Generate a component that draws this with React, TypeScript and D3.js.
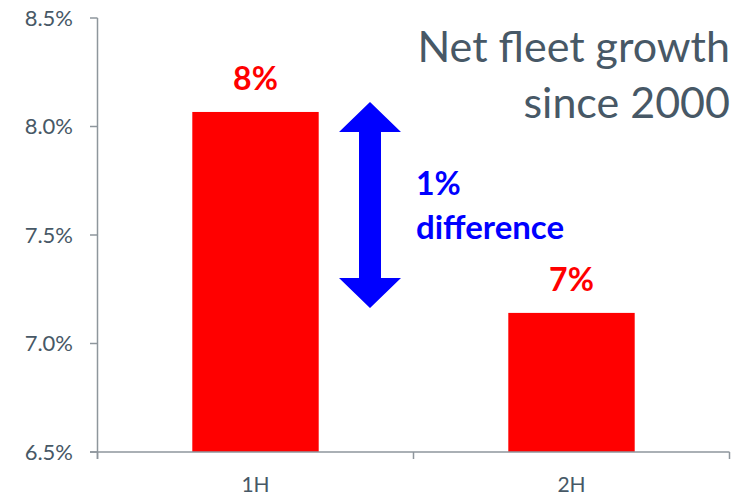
import React from "react";
import * as d3 from "d3";

const categories = ["1H", "2H"];
const values = [8.067, 7.141];
const valueLabels = ["8%", "7%"];
const yTicks = [6.5, 7.0, 7.5, 8.0, 8.5];
const titleLines = ["Net fleet growth", "since 2000"];
const noteLines = ["1%", "difference"];

const W = 751;
const H = 497;
const FONT = "Lato, 'Open Sans', sans-serif";
const TEXT = "#475866";
const AXIS = "#8e969c";

export default function App() {
  const x = d3.scaleBand<string>().domain(categories).range([97.5, 729.5]).padding(0);
  const y = d3.scaleLinear().domain([6.5, 8.5]).range([452, 18]);
  const barW = x.bandwidth() * 0.4;

  // arrow geometry
  const ax = 370;
  const aTop = 102;
  const aBot = 308;
  const headH = 30;
  const headHalf = 31;
  const shaftHalf = 11;
  const arrow = [
    [ax, aTop],
    [ax + headHalf, aTop + headH],
    [ax + shaftHalf, aTop + headH],
    [ax + shaftHalf, aBot - headH],
    [ax + headHalf, aBot - headH],
    [ax, aBot],
    [ax - headHalf, aBot - headH],
    [ax - shaftHalf, aBot - headH],
    [ax - shaftHalf, aTop + headH],
    [ax - headHalf, aTop + headH],
  ];

  return (
    <svg
      width={W}
      height={H}
      style={{ position: "absolute", left: 0, top: 0, background: "#fff" }}
      fontFamily={FONT}
    >
      {/* bars */}
      {categories.map((c, i) => {
        const cx = (x(c) as number) + x.bandwidth() / 2;
        return (
          <g key={c}>
            <rect x={cx - barW / 2} y={y(values[i])} width={barW} height={y(6.5) - y(values[i])} fill="#ff0000" />
            <text x={cx} y={y(values[i]) - 22} textAnchor="middle" fill="#ff0000" fontWeight="bold" fontSize={32}>
              {valueLabels[i]}
            </text>
            <text x={cx} y={492} textAnchor="middle" fill={TEXT} fontSize={21}>
              {c}
            </text>
          </g>
        );
      })}

      {/* y axis */}
      <line x1={97.5} x2={97.5} y1={y(8.5)} y2={459} stroke={AXIS} strokeWidth={1.5} />
      {yTicks.map((t) => (
        <g key={t}>
          <line x1={90} x2={97.5} y1={y(t)} y2={y(t)} stroke={AXIS} strokeWidth={1.5} />
          <text x={73} y={y(t)} dy="0.36em" textAnchor="end" fill={TEXT} fontSize={22}>
            {t.toFixed(1)}%
          </text>
        </g>
      ))}

      {/* x axis */}
      <line x1={90} x2={729.5} y1={y(6.5)} y2={y(6.5)} stroke={AXIS} strokeWidth={1.5} />
      {[...categories.map((c) => x(c) as number), 729.5].map((tx, i) => (
        <line key={i} x1={tx} x2={tx} y1={y(6.5)} y2={459} stroke={AXIS} strokeWidth={1.5} />
      ))}

      {/* arrow */}
      <polygon points={arrow.map((p) => p.join(",")).join(" ")} fill="#0000ff" />
      <text x={416} y={195} fill="#0000ff" fontWeight="bold" fontSize={32}>
        {noteLines[0]}
      </text>
      <text x={416} y={239} fill="#0000ff" fontWeight="bold" fontSize={33}>
        {noteLines[1]}
      </text>

      {/* title */}
      <text x={730} y={62} textAnchor="end" fill={TEXT} fontSize={43}>
        {titleLines[0]}
      </text>
      <text x={730} y={118} textAnchor="end" fill={TEXT} fontSize={43}>
        {titleLines[1]}
      </text>
    </svg>
  );
}
